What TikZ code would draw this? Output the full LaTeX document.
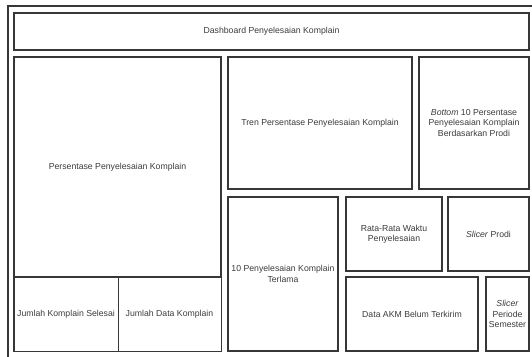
\documentclass[tikz,border=0pt]{standalone}
\usepackage{fontspec}
\setmainfont{Liberation Sans}
\definecolor{edge}{RGB}{55,55,55}
\definecolor{txt}{RGB}{60,60,60}
\begin{document}
\begin{tikzpicture}[x=1pt,y=-1pt,
  box/.style={draw=edge,line width=1.5pt,fill=white,inner sep=1pt,
    align=center,text=txt,font=\fontsize{8.7}{10.5}\selectfont},
  thinbox/.style={box,line width=1pt},
  frame/.style={draw=edge,line width=1.5pt}]
\clip (0,0) rectangle (532,356);
\fill[white] (0,0) rectangle (532,356);
\draw[frame] (8,6) rectangle (545,370);
\node[box,minimum width=515,minimum height=37] (header) at (271.5,31.5) {Dashboard Penyelesaian Komplain};
\node[box,minimum width=207,minimum height=220] (persen) at (117.5,167) {Persentase Penyelesaian Komplain};
\node[thinbox,minimum width=104,minimum height=74] (juma) at (66,314) {Jumlah Komplain Selesai};
\node[thinbox,minimum width=103,minimum height=74] (jumb) at (169.5,314) {Jumlah Data Komplain};
\draw[frame] (persen.north west) rectangle (jumb.south east);
\node[box,minimum width=184,minimum height=132] (tren) at (320,123) {Tren Persentase Penyelesaian Komplain};
\node[box,minimum width=110,minimum height=132] (bot) at (474,123) {\textit{Bottom} 10 Persentase\\Penyelesaian Komplain\\Berdasarkan Prodi};
\node[box,minimum width=110,minimum height=154] (lama) at (283,274) {10 Penyelesaian Komplain\\Terlama};
\node[box,minimum width=96,minimum height=74] (rata) at (394,234) {Rata-Rata Waktu\\Penyelesaian};
\node[box,minimum width=81,minimum height=74] (sprodi) at (488.5,234) {\textit{Slicer} Prodi};
\node[box,minimum width=132,minimum height=74] (akm) at (412,314) {Data AKM Belum Terkirim};
\node[box,minimum width=43,minimum height=74] (speriode) at (507.5,314) {\textit{Slicer}\\Periode\\Semester};
\end{tikzpicture}
\end{document}
